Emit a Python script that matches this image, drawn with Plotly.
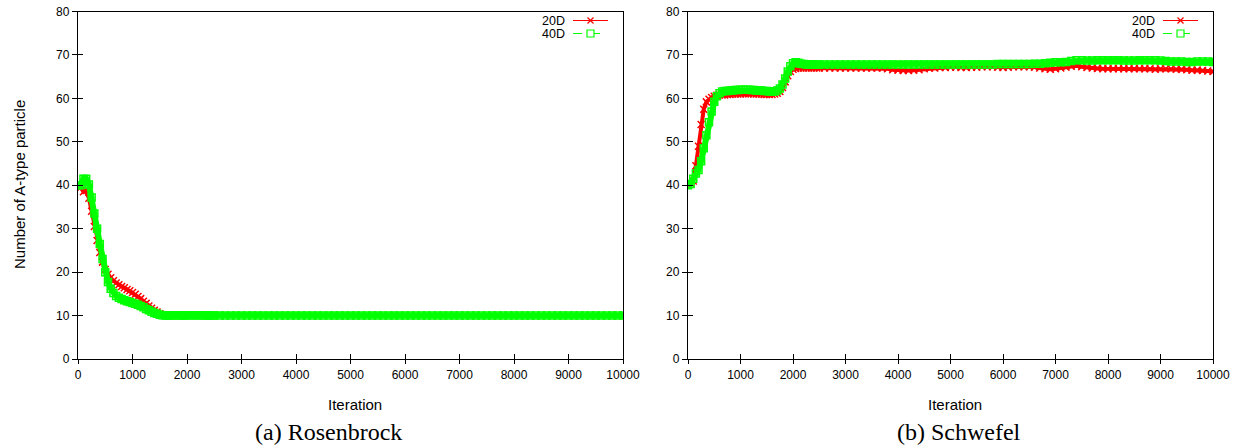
import plotly.graph_objects as go

# ---------------- data ----------------
ITER = list(range(0, 2501, 50)) + list(range(2600, 10001, 100))

ROSEN_20D = [
    40, 39.5, 38.5, 38.8, 37, 34, 30.5, 27.3, 24.5, 22.3,
    20.6, 19.5, 18.7, 18, 17.5, 17.1, 16.7, 16.4, 16, 15.7,
    15.3, 14.9, 14.4, 13.9, 13.3, 12.8, 12.2, 11.7, 11.2, 10.8,
    10.4, 10.2, 10.1, 10, 10, 10, 10, 10, 10, 10,
    10, 10, 10, 10, 10, 10, 10, 10, 10, 10,
    10,
    10, 10, 10, 10, 10, 10, 10, 10, 10, 10,
    10, 10, 10, 10, 10, 10, 10, 10, 10, 10,
    10, 10, 10, 10, 10, 10, 10, 10, 10, 10,
    10, 10, 10, 10, 10, 10, 10, 10, 10, 10,
    10, 10, 10, 10, 10, 10, 10, 10, 10, 10,
    10, 10, 10, 10, 10, 10, 10, 10, 10, 10,
    10, 10, 10, 10, 10, 10, 10, 10, 10, 10,
    10, 10, 10, 10, 10,
]
ROSEN_40D = [
    40, 40, 41.5, 41.5, 40.2, 37.2, 33.5, 30, 26.5, 23,
    20, 17.7, 16.2, 15.2, 14.5, 14.1, 13.8, 13.5, 13.3, 13.1,
    12.9, 12.7, 12.5, 12.2, 11.9, 11.5, 11.2, 10.9, 10.6, 10.4,
    10.2, 10.1, 10, 10, 10, 10.1, 10.1, 10.1, 10, 10,
    10.1, 10.1, 10.1, 10.1, 10.1, 10.1, 10.1, 10, 10, 10,
    10,
    10, 10, 10, 10, 10, 10, 10, 10, 10, 10,
    10, 10, 10, 10, 10, 10, 10, 10, 10, 10,
    10, 10, 10, 10, 10, 10, 10, 10, 10, 10,
    10, 10, 10, 10, 10, 10, 10, 10, 10, 10,
    10, 10, 10, 10, 10, 10, 10, 10, 10, 10,
    10, 10, 10, 10, 10, 10, 10, 10, 10, 10,
    10, 10, 10, 10, 10, 10, 10, 10, 10, 10,
    10, 10, 10, 10, 10,
]
SCHW_20D = [
    40, 40.5, 41, 44.5, 49, 54, 57.5, 59.2, 59.8, 60.2,
    60.5, 60.7, 60.8, 60.8, 60.8, 60.9, 60.9, 61, 61, 61,
    61, 61.1, 61.1, 61.1, 61.1, 61, 61, 61, 61, 60.9,
    60.9, 60.9, 60.9, 61, 61.2, 61.6, 62.5, 63.8, 65.2, 66.2,
    66.7, 66.9, 67, 67, 67, 67, 67, 67, 67, 67,
    67,
    67, 67, 67, 67, 67, 67, 67, 67, 67, 67,
    67, 67, 66.8, 66.6, 66.5, 66.4, 66.4, 66.5, 66.6, 66.8,
    67, 67, 67.1, 67.1, 67.2, 67.2, 67.1, 67.1, 67.2, 67.2,
    67.3, 67.3, 67.3, 67.2, 67.1, 67.2, 67.3, 67.3, 67.3, 67.3,
    67.2, 67, 66.8, 66.7, 66.8, 67, 67.2, 67.4, 67.5, 67.3,
    67.1, 67, 66.9, 66.8, 66.8, 66.8, 66.8, 66.8, 66.8, 66.8,
    66.8, 66.8, 66.8, 66.7, 66.8, 66.8, 66.8, 66.7, 66.7, 66.6,
    66.5, 66.5, 66.4, 66.3, 66.2,
]
SCHW_40D = [
    40, 40.3, 41.5, 42.7, 43.5, 45.5, 48.5, 51.5, 54.5, 57,
    59.2, 60.5, 61.2, 61.6, 61.7, 61.7, 61.8, 61.8, 61.9, 61.9,
    62, 62, 62, 62, 61.9, 61.9, 61.8, 61.8, 61.8, 61.7,
    61.7, 61.6, 61.6, 61.6, 61.8, 62.3, 63.2, 64.6, 66.2, 67.4,
    68.1, 68.3, 68.2, 68, 67.9, 67.8, 67.8, 67.8, 67.8, 67.8,
    67.8,
    67.8, 67.8, 67.8, 67.8, 67.8, 67.8, 67.8, 67.8, 67.8, 67.8,
    67.8, 67.8, 67.8, 67.8, 67.8, 67.8, 67.8, 67.8, 67.8, 67.8,
    67.8, 67.8, 67.8, 67.8, 67.8, 67.8, 67.8, 67.8, 67.8, 67.8,
    67.8, 67.8, 67.8, 67.9, 67.9, 67.9, 67.9, 67.9, 67.9, 67.9,
    68, 68, 68.1, 68.2, 68.3, 68.3, 68.4, 68.6, 68.8, 68.8,
    68.7, 68.7, 68.8, 68.8, 68.8, 68.8, 68.8, 68.7, 68.7, 68.7,
    68.8, 68.8, 68.8, 68.8, 68.7, 68.6, 68.5, 68.5, 68.5, 68.4,
    68.4, 68.5, 68.5, 68.5, 68.4,
]

SERIES_NAMES = ["20D", "40D"]
Y_TICKS = [0, 10, 20, 30, 40, 50, 60, 70, 80]
X_TICKS = [0, 1000, 2000, 3000, 4000, 5000, 6000, 7000, 8000, 9000, 10000]
X_TICKTEXT = [str(v) for v in X_TICKS]
CAPTIONS = ["(a) Rosenbrock", "(b) Schwefel"]
X_TITLE = "Iteration"
Y_TITLE = "Number of A-type particle"

# ---------------- styling ----------------
W, H = 1238, 447
RED = "#ff0000"
GREEN = "#00ff00"
SANS = "Liberation Sans, Arial, Helvetica, sans-serif"
SERIF = "Liberation Serif, Times New Roman, serif"

def px(x):
    return x / W

def py(y):
    return 1 - y / H

PLOT_X = [(78, 623), (688, 1213)]
PLOT_Y = (11.5, 359)

fig = go.Figure()

panels = [(ROSEN_20D, ROSEN_40D), (SCHW_20D, SCHW_40D)]
for i, (s20, s40) in enumerate(panels):
    xa = "x" if i == 0 else "x2"
    ya = "y" if i == 0 else "y2"
    fig.add_trace(go.Scatter(
        x=ITER, y=s20, mode="lines+markers", name=SERIES_NAMES[0],
        line=dict(color=RED, width=4),
        marker=dict(symbol="x-thin-open", size=7, color=RED,
                    line=dict(color=RED, width=1.5)),
        xaxis=xa, yaxis=ya, showlegend=False, hoverinfo="skip"))
    fig.add_trace(go.Scatter(
        x=ITER, y=s40, mode="lines+markers", name=SERIES_NAMES[1],
        line=dict(color=GREEN, width=6),
        marker=dict(symbol="square-open", size=7, color=GREEN,
                    line=dict(color=GREEN, width=1.5)),
        xaxis=xa, yaxis=ya, showlegend=False, hoverinfo="skip"))

# empty traces to create overlay axes (inside ticks)
for xa, ya in [("x3", "y3"), ("x4", "y4")]:
    fig.add_trace(go.Scatter(x=[], y=[], xaxis=xa, yaxis=ya,
                             showlegend=False, hoverinfo="skip"))

common_x = dict(range=[0, 10000], tickvals=X_TICKS, ticktext=X_TICKTEXT,
                showgrid=False, zeroline=False, automargin=False)
common_y = dict(range=[0, 80], tickvals=Y_TICKS, showgrid=False,
                zeroline=False, automargin=False)
ydom = [py(PLOT_Y[1]), py(PLOT_Y[0])]

layout = dict(
    width=W, height=H,
    margin=dict(l=0, r=0, t=0, b=0, pad=0, autoexpand=False),
    paper_bgcolor="white", plot_bgcolor="white",
    showlegend=False,
)
for i, (x0, x1) in enumerate(PLOT_X):
    n = "" if i == 0 else "2"
    on = "3" if i == 0 else "4"
    layout["xaxis" + n] = dict(
        domain=[px(x0), px(x1)], anchor="y" + n, **common_x,
        ticks="outside", ticklen=4, tickcolor="black", tickwidth=1,
        showline=True, linecolor="black", linewidth=1.3, mirror=True,
        tickfont=dict(family=SANS, size=12, color="black"))
    layout["yaxis" + n] = dict(
        domain=ydom, anchor="x" + n, **common_y,
        ticks="outside", ticklen=5, tickcolor="black", tickwidth=1,
        showline=True, linecolor="black", linewidth=1.3, mirror=True,
        tickfont=dict(family=SANS, size=12, color="black"))
    layout["xaxis" + on] = dict(
        overlaying="x" + n, anchor="y" + on, **common_x,
        ticks="inside", ticklen=5, tickcolor="black", tickwidth=1,
        showticklabels=False, showline=False)
    layout["yaxis" + on] = dict(
        overlaying="y" + n, anchor="x" + on, **common_y,
        ticks="inside", ticklen=5, tickcolor="black", tickwidth=1,
        showticklabels=False, showline=False)
fig.update_layout(**layout)

annotations = []
shapes = []
for i, (x0, x1) in enumerate(PLOT_X):
    cx = (x0 + x1) / 2
    annotations.append(dict(
        x=px(cx + 4), y=py(404), xref="paper", yref="paper",
        text=X_TITLE, showarrow=False, xanchor="center", yanchor="middle",
        font=dict(family=SANS, size=15, color="black")))
    annotations.append(dict(
        x=px(cx - 22 if i == 0 else cx + 8), y=py(432), xref="paper", yref="paper",
        text=CAPTIONS[i], showarrow=False, xanchor="center", yanchor="middle",
        font=dict(family=SERIF, size=24, color="black")))
    # legend (gnuplot style: text then sample)
    for j, (name, col) in enumerate(zip(SERIES_NAMES, [RED, GREEN])):
        yy = 20.5 if j == 0 else 33.5
        annotations.append(dict(
            x=px(x1 - 57), y=py(yy), xref="paper", yref="paper",
            text=name, showarrow=False, xanchor="right", yanchor="middle",
            borderpad=0,
            font=dict(family=SANS, size=12.5, color="black")))
        shapes.append(dict(
            type="line", xref="paper", yref="paper",
            x0=px(x1 - 50), x1=px(x1 - 15), y0=py(yy), y1=py(yy),
            line=dict(color=col, width=1.2, dash="solid" if j == 0 else "dash")))
        mx = x1 - 32.5
        if j == 0:
            for d in (1, -1):
                shapes.append(dict(
                    type="line", xref="paper", yref="paper",
                    x0=px(mx - 3), x1=px(mx + 3),
                    y0=py(yy - 3 * d), y1=py(yy + 3 * d),
                    line=dict(color=col, width=1.2)))
        else:
            shapes.append(dict(
                type="rect", xref="paper", yref="paper",
                x0=px(mx - 3.5), x1=px(mx + 3.5),
                y0=py(yy - 3.5), y1=py(yy + 3.5),
                line=dict(color=col, width=1.2), fillcolor="white"))

annotations.append(dict(
    x=px(19), y=py(185), xref="paper", yref="paper",
    text=Y_TITLE, showarrow=False, textangle=-90,
    xanchor="center", yanchor="middle",
    font=dict(family=SANS, size=15, color="black")))

fig.update_layout(annotations=annotations, shapes=shapes)

fig.write_html(
    "out.html",
    config={"displayModeBar": False},
    post_script="document.body.style.margin='0';"
                "document.body.style.padding='0';"
                "document.body.style.overflow='hidden';",
)
